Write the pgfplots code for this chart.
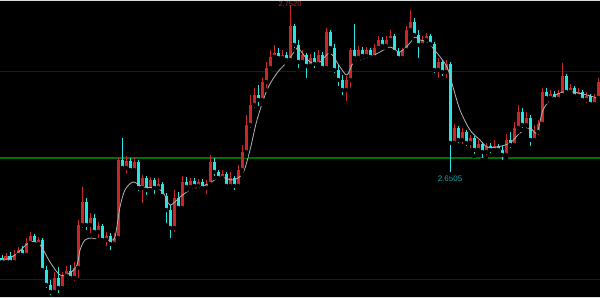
\documentclass[border=0pt]{standalone}
\usepackage{pgfplots}
\usepackage{pgfplotstable}
\usepackage{fontspec}
\setmainfont{Liberation Sans}
\pgfplotsset{compat=1.18}

\definecolor{bull}{RGB}{200,40,40}
\definecolor{bear}{RGB}{40,228,228}
\definecolor{avgline}{RGB}{180,180,180}
\definecolor{lvlgreen}{RGB}{0,112,0}
\definecolor{lvlred}{RGB}{80,6,6}
\definecolor{lowlbl}{RGB}{30,165,170}
\definecolor{edge}{RGB}{220,220,220}

% x o h l c  (open, high, low, close)
\pgfplotstableread{
x o h l c
2 2.6002 2.6020 2.5954 2.5978
6 2.5978 2.6032 2.5966 2.6014
10 2.6014 2.6038 2.5960 2.5978
14 2.5978 2.6050 2.5966 2.6020
18 2.6020 2.6068 2.6002 2.6050
22 2.6050 2.6074 2.6002 2.6020
26 2.6020 2.6122 2.6008 2.6092
30 2.6092 2.6158 2.6074 2.6134
34 2.6134 2.6146 2.6068 2.6086
38 2.6086 2.6128 2.6062 2.6110
42 2.6110 2.6122 2.5912 2.5930
46 2.5930 2.5954 2.5810 2.5840
50 2.5840 2.5870 2.5768 2.5798
54 2.5798 2.5918 2.5780 2.5882
58 2.5882 2.5948 2.5780 2.5822
62 2.5822 2.5918 2.5798 2.5894
66 2.5894 2.5954 2.5876 2.5924
70 2.5924 2.5960 2.5858 2.5882
74 2.5882 2.5978 2.5852 2.5942
78 2.5942 2.6230 2.5870 2.6200
82 2.6200 2.6428 2.6170 2.6338
86 2.6338 2.6362 2.6158 2.6200
90 2.6200 2.6272 2.6140 2.6242
94 2.6242 2.6266 2.6134 2.6158
98 2.6158 2.6218 2.6110 2.6194
102 2.6194 2.6206 2.6086 2.6110
106 2.6110 2.6158 2.6062 2.6134
110 2.6134 2.6152 2.6038 2.6086
114 2.6086 2.6152 2.6068 2.6122
118 2.6122 2.6608 2.6104 2.6590
122 2.6590 2.6722 2.6518 2.6542
126 2.6542 2.6614 2.6500 2.6584
130 2.6584 2.6602 2.6506 2.6530
134 2.6530 2.6608 2.6518 2.6578
138 2.6578 2.6590 2.6392 2.6422
142 2.6422 2.6500 2.6320 2.6482
146 2.6482 2.6494 2.6368 2.6410
150 2.6410 2.6488 2.6398 2.6470
154 2.6470 2.6482 2.6374 2.6422
158 2.6422 2.6482 2.6398 2.6446
162 2.6446 2.6458 2.6350 2.6374
166 2.6374 2.6392 2.6200 2.6290
170 2.6290 2.6320 2.6110 2.6182
174 2.6182 2.6410 2.6146 2.6362
178 2.6362 2.6398 2.6278 2.6302
182 2.6302 2.6494 2.6290 2.6458
186 2.6458 2.6488 2.6410 2.6428
190 2.6428 2.6482 2.6416 2.6464
194 2.6464 2.6482 2.6410 2.6434
198 2.6434 2.6476 2.6410 2.6458
202 2.6458 2.6476 2.6404 2.6422
206 2.6422 2.6470 2.6374 2.6446
210 2.6446 2.6620 2.6422 2.6578
214 2.6578 2.6602 2.6482 2.6518
218 2.6518 2.6530 2.6458 2.6482
222 2.6482 2.6530 2.6458 2.6506
226 2.6506 2.6518 2.6410 2.6434
230 2.6434 2.6518 2.6422 2.6482
234 2.6482 2.6494 2.6398 2.6434
238 2.6434 2.6560 2.6410 2.6530
242 2.6530 2.6680 2.6506 2.6638
246 2.6638 2.6860 2.6614 2.6800
250 2.6800 2.6980 2.6770 2.6920
254 2.6920 2.7022 2.6890 2.6980
258 2.6980 2.7040 2.6902 2.6950
262 2.6950 2.7082 2.6926 2.7058
266 2.7058 2.7178 2.7010 2.7142
270 2.7142 2.7250 2.7118 2.7208
274 2.7208 2.7280 2.7190 2.7232
278 2.7232 2.7262 2.7178 2.7202
282 2.7202 2.7250 2.7190 2.7220
286 2.7220 2.7238 2.7172 2.7190
290 2.7190 2.7520 2.7178 2.7394
294 2.7394 2.7406 2.7250 2.7280
298 2.7280 2.7310 2.7130 2.7178
302 2.7178 2.7250 2.7166 2.7220
306 2.7220 2.7232 2.7070 2.7154
310 2.7154 2.7226 2.7130 2.7202
314 2.7202 2.7238 2.7130 2.7166
318 2.7166 2.7250 2.7148 2.7220
322 2.7220 2.7238 2.7118 2.7142
326 2.7142 2.7382 2.7130 2.7358
330 2.7358 2.7370 2.7238 2.7262
334 2.7262 2.7286 2.7100 2.7130
338 2.7130 2.7166 2.7022 2.7070
342 2.7070 2.7100 2.6968 2.7010
346 2.7010 2.7094 2.6932 2.7070
350 2.7070 2.7262 2.7010 2.7250
354 2.7250 2.7406 2.7178 2.7202
358 2.7202 2.7274 2.7190 2.7250
362 2.7250 2.7268 2.7202 2.7214
366 2.7214 2.7268 2.7190 2.7250
370 2.7250 2.7262 2.7190 2.7208
374 2.7208 2.7286 2.7196 2.7262
378 2.7262 2.7334 2.7250 2.7310
382 2.7310 2.7328 2.7262 2.7274
386 2.7274 2.7334 2.7262 2.7310
390 2.7310 2.7370 2.7292 2.7334
394 2.7334 2.7346 2.7214 2.7238
398 2.7238 2.7262 2.7178 2.7202
402 2.7202 2.7262 2.7190 2.7250
406 2.7250 2.7394 2.7232 2.7370
410 2.7370 2.7490 2.7346 2.7418
414 2.7418 2.7442 2.7310 2.7340
418 2.7340 2.7370 2.7190 2.7280
422 2.7280 2.7334 2.7262 2.7310
426 2.7310 2.7352 2.7286 2.7334
430 2.7334 2.7346 2.7262 2.7286
434 2.7286 2.7298 2.7100 2.7130
438 2.7130 2.7202 2.7070 2.7178
442 2.7178 2.7190 2.7082 2.7118
446 2.7118 2.7190 2.7070 2.7166
450 2.7166 2.7178 2.6505 2.6692
454 2.6692 2.6806 2.6674 2.6782
458 2.6782 2.6794 2.6680 2.6710
462 2.6710 2.6782 2.6674 2.6758
466 2.6758 2.6770 2.6662 2.6692
470 2.6692 2.6740 2.6650 2.6722
474 2.6722 2.6734 2.6614 2.6650
478 2.6650 2.6710 2.6626 2.6686
482 2.6686 2.6698 2.6590 2.6638
486 2.6638 2.6692 2.6608 2.6674
490 2.6674 2.6692 2.6620 2.6650
494 2.6650 2.6710 2.6632 2.6674
498 2.6674 2.6686 2.6626 2.6650
502 2.6650 2.6674 2.6578 2.6620
506 2.6620 2.6746 2.6602 2.6710
510 2.6710 2.6758 2.6650 2.6680
514 2.6680 2.6818 2.6662 2.6782
518 2.6782 2.6920 2.6758 2.6878
522 2.6878 2.6902 2.6770 2.6800
526 2.6800 2.6878 2.6770 2.6842
530 2.6842 2.6860 2.6662 2.6710
534 2.6710 2.6800 2.6692 2.6758
538 2.6758 2.6830 2.6728 2.6806
542 2.6806 2.7022 2.6782 2.6998
546 2.6998 2.7022 2.6938 2.6962
550 2.6962 2.7010 2.6950 2.6986
554 2.6986 2.7004 2.6938 2.6956
558 2.6956 2.7010 2.6944 2.6992
562 2.6980 2.7172 2.6968 2.7094
566 2.7094 2.7106 2.6974 2.6998
570 2.6998 2.7046 2.6974 2.7022
574 2.7022 2.7034 2.6950 2.6974
578 2.6974 2.7022 2.6962 2.6998
582 2.6998 2.7010 2.6926 2.6950
586 2.6950 2.6998 2.6920 2.6974
590 2.6974 2.6986 2.6902 2.6926
594 2.6926 2.6986 2.6914 2.6962
598 2.6962 2.7082 2.6950 2.7058
}\candles

% moving average
\pgfplotstableread{
x m
0 2.5978
15 2.6020
30 2.6098
40 2.6080
50 2.5978
60 2.5900
70 2.5912
77 2.5960
80 2.6050
85 2.6110
92 2.6122
100 2.6110
110 2.6110
115 2.6128
120 2.6308
125 2.6410
133 2.6458
143 2.6428
155 2.6422
163 2.6398
170 2.6320
180 2.6368
190 2.6410
200 2.6428
210 2.6452
220 2.6488
233 2.6470
243 2.6512
250 2.6650
257 2.6830
267 2.7010
277 2.7112
287 2.7178
297 2.7262
300 2.7250
310 2.7178
320 2.7178
330 2.7232
340 2.7148
347 2.7100
353 2.7172
360 2.7190
370 2.7208
380 2.7238
390 2.7268
400 2.7238
410 2.7292
415 2.7328
420 2.7310
427 2.7298
437 2.7232
447 2.7148
453 2.7028
460 2.6890
470 2.6770
480 2.6710
487 2.6668
497 2.6668
510 2.6692
520 2.6752
530 2.6782
537 2.6752
543 2.6890
553 2.6968
563 2.6998
573 2.6998
587 2.6980
597 2.6962
}\mavg

\begin{document}
\begin{tikzpicture}
\useasboundingbox (0,0) rectangle (600bp,298bp);
\clip (0,0) rectangle (600bp,298bp);
\fill[black] (0,0) rectangle (600bp,298bp);
\begin{axis}[
  at={(0,0)}, anchor=south west,
  scale only axis, width=600bp, height=298bp,
  xmin=0, xmax=600, ymin=2.5762, ymax=2.7550,
  axis lines=none, xtick=\empty, ytick=\empty,
  clip=true,
]
% price levels
\addplot[lvlred, line width=1bp] coordinates {(0,2.7118) (600,2.7118)};
\addplot[lvlred, line width=1bp] coordinates {(0,2.5870) (600,2.5870)};
\addplot[lvlgreen, line width=1.4bp] coordinates {(0,2.6602) (600,2.6602)};

% wicks
\addplot[only marks, mark=none, error bars/.cd, y dir=plus, y explicit, error mark=none,
  error bar style={draw=bull, line width=1bp}]
  table[x=x, y expr={\thisrow{c}>=\thisrow{o} ? \thisrow{l} : nan},
        y error expr={\thisrow{h}-\thisrow{l}}] {\candles};
\addplot[only marks, mark=none, error bars/.cd, y dir=plus, y explicit, error mark=none,
  error bar style={draw=bear, line width=1bp}]
  table[x=x, y expr={\thisrow{c}<\thisrow{o} ? \thisrow{l} : nan},
        y error expr={\thisrow{h}-\thisrow{l}}] {\candles};
% bodies
\addplot[only marks, mark=none, error bars/.cd, y dir=plus, y explicit, error mark=none,
  error bar style={draw=bull, line width=3bp}]
  table[x=x, y expr={\thisrow{c}>=\thisrow{o} ? \thisrow{o} : nan},
        y error expr={\thisrow{c}-\thisrow{o}}] {\candles};
\addplot[only marks, mark=none, error bars/.cd, y dir=plus, y explicit, error mark=none,
  error bar style={draw=bear, line width=3bp}]
  table[x=x, y expr={\thisrow{c}<\thisrow{o} ? \thisrow{c} : nan},
        y error expr={\thisrow{o}-\thisrow{c}}] {\candles};

% moving average
\addplot[avgline, line width=0.8bp, smooth, tension=0.5] table[x=x, y=m] {\mavg};

% high / low markers
\node[text=bull, font=\fontsize{7.5}{8}\selectfont, anchor=north, inner sep=0.5bp]
  at (axis cs:290,2.7545) {2.7520};
\node[text=lowlbl, font=\fontsize{8}{9}\selectfont, anchor=north, inner sep=1.5bp]
  at (axis cs:450,2.6505) {2.6505};
\end{axis}
\fill[edge] (0,296.5bp) rectangle (600bp,298bp);
\fill[edge] (0,0) rectangle (600bp,1.5bp);
\end{tikzpicture}
\end{document}
